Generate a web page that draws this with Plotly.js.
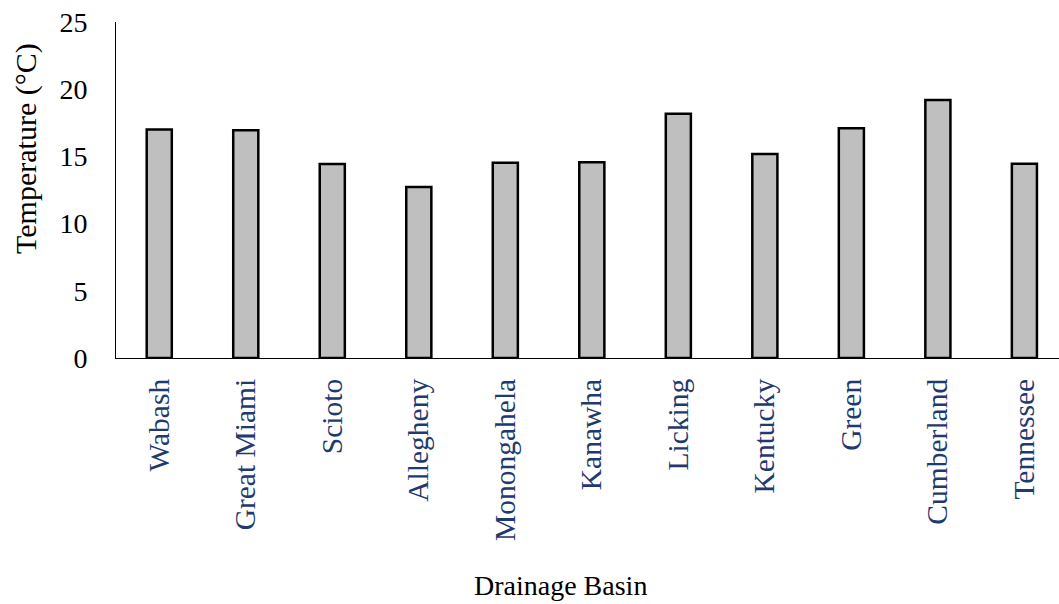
<!DOCTYPE html>
<html>
<head>
<meta charset="utf-8">
<script src="https://cdn.plot.ly/plotly-3.0.1.min.js"></script>
<style>html,body{margin:0;padding:0;background:#fff;}#chart{width:1059px;height:604px;}</style>
</head>
<body>
<div id="chart"></div>
<script>
const basins = ["Wabash","Great Miami","Scioto","Allegheny","Monongahela","Kanawha","Licking","Kentucky","Green","Cumberland","Tennessee"];
const temperatures = [17.0, 16.95, 14.43, 12.72, 14.53, 14.56, 18.18, 15.18, 17.1, 19.2, 14.46];
const yTickValues = [0, 5, 10, 15, 20, 25];
const yTitle = "Temperature (°C)";
const xTitle = "Drainage Basin";

const font = "Liberation Serif";

const trace = {
  type: "bar",
  x: basins,
  y: temperatures,
  width: 0.29,
  marker: {color: "#BFBFBF", line: {color: "#000000", width: 2.5}},
  hoverinfo: "x+y"
};

const layout = {
  width: 1059, height: 604,
  margin: {l: 116, r: 0, t: 22, b: 246, pad: 0},
  paper_bgcolor: "#ffffff", plot_bgcolor: "#ffffff",
  showlegend: false,
  font: {family: font, color: "#000000"},
  xaxis: {
    type: "category",
    range: [-0.5, 10.4],
    showline: true, linecolor: "#000000", linewidth: 1,
    showgrid: false, zeroline: false, ticks: "",
    tickangle: -90,
    ticklabelstandoff: 8,
    tickfont: {family: font, size: 29.5, color: "#1F3A6E"}
  },
  yaxis: {
    range: [0, 25],
    tickvals: yTickValues,
    showline: true, linecolor: "#000000", linewidth: 1,
    showgrid: false, zeroline: false, ticks: "",
    ticklabelstandoff: 22,
    tickfont: {family: font, size: 28, color: "#000000"}
  },
  annotations: [
    {text: yTitle, xref: "paper", yref: "paper", x: -0.0955, y: 0.625,
     textangle: -90, showarrow: false, xanchor: "center", yanchor: "middle",
     font: {family: font, size: 30, color: "#000000"}},
    {text: xTitle, xref: "paper", yref: "paper", x: 0.471, y: -0.676,
     showarrow: false, xanchor: "center", yanchor: "middle",
     font: {family: font, size: 28, color: "#000000"}}
  ]
};

Plotly.newPlot("chart", [trace], layout, {displayModeBar: false, staticPlot: true});
</script>
</body>
</html>
